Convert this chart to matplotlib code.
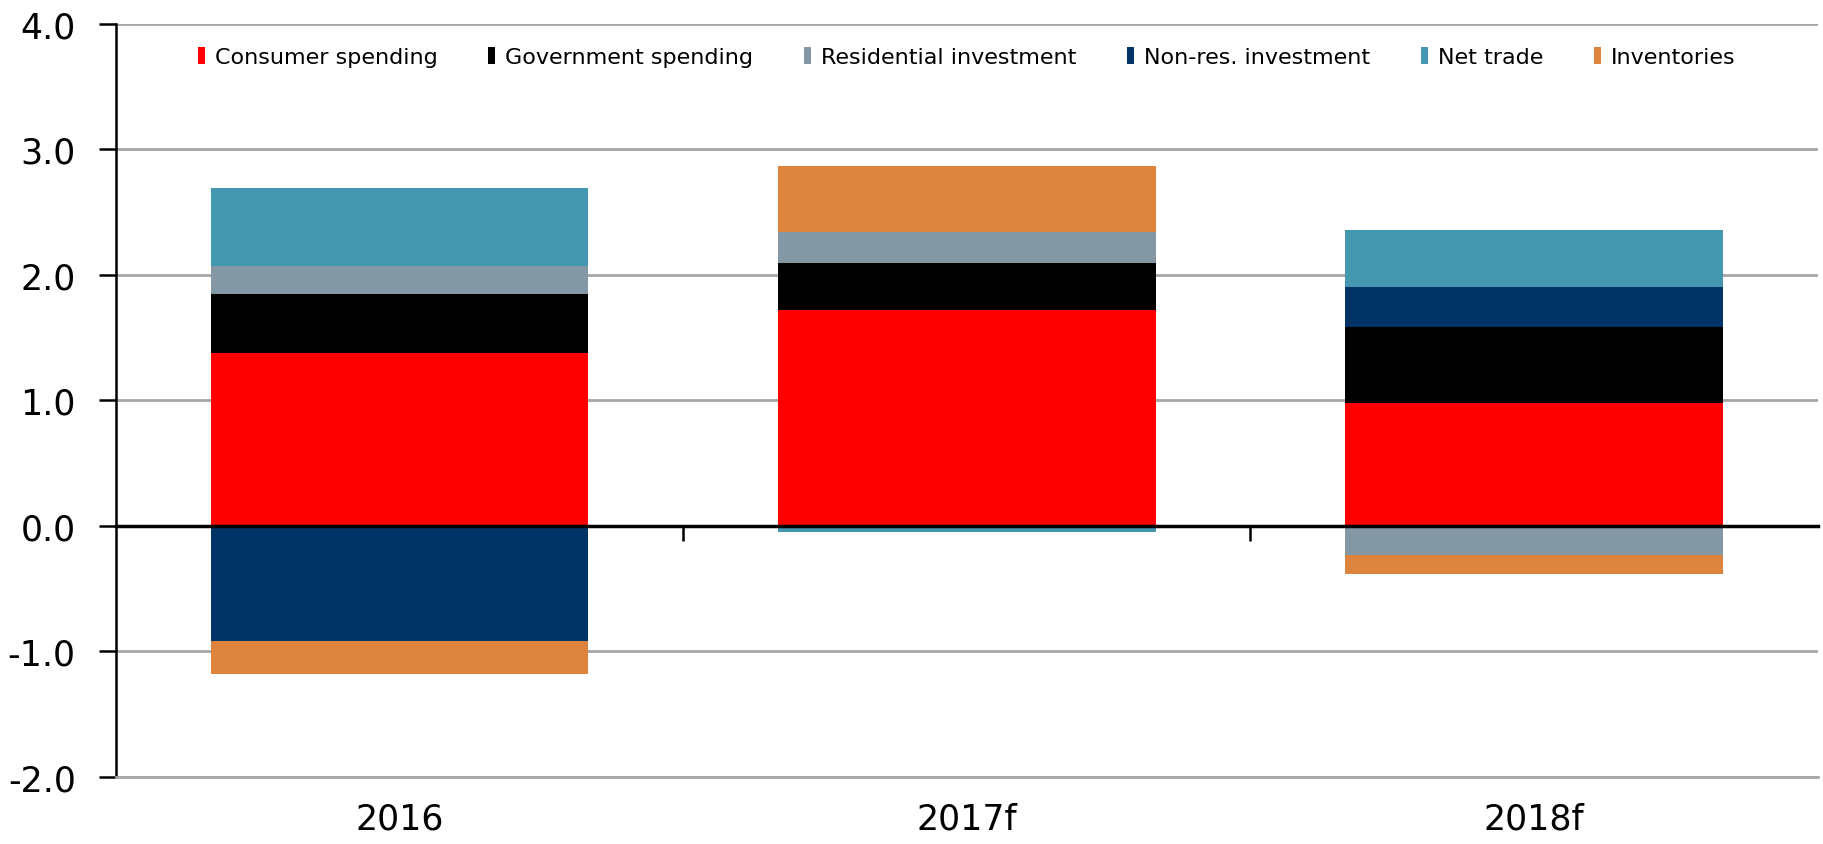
import numpy as np
import matplotlib.pyplot as plt

years = ['2016', '2017f', '2018f']
series = ['Consumer spending', 'Government spending', 'Residential investment',
          'Non-res. investment', 'Net trade', 'Inventories']
consumer = [1.38, 1.72, 0.98]
government = [0.465, 0.37, 0.60]
residential = [0.225, 0.25, -0.235]
nonres = [-0.92, 0.0, 0.32]
net_trade = [0.62, -0.048, 0.455]
inventories = [-0.26, 0.525, -0.15]
colors = ['#ff0000', '#000000', '#8497a4', '#003366', '#4398b0', '#dc843e']

values = [consumer, government, residential, nonres, net_trade, inventories]

fig = plt.figure(figsize=(18.23, 8.45), dpi=100)
ax = fig.add_axes([0.0636, 0.0793, 0.9334, 0.8917])

x = np.arange(len(years))
pos_bottom = np.zeros(len(years))
neg_bottom = np.zeros(len(years))
for name, vals, c in zip(series, values, colors):
    vals = np.array(vals)
    bottom = np.where(vals >= 0, pos_bottom, neg_bottom)
    ax.bar(x, vals, width=0.666, bottom=bottom, color=c, label=name, zorder=2)
    pos_bottom += np.where(vals >= 0, vals, 0)
    neg_bottom += np.where(vals < 0, vals, 0)

ax.set_xlim(-0.5, 2.5)
ax.set_ylim(-2, 4)
ax.set_yticks(np.arange(-2, 4.01, 1.0))
ax.set_yticklabels([f'{v:.1f}' for v in np.arange(-2, 4.01, 1.0)])
ax.yaxis.grid(True, color='#a6a6a6', linewidth=2, zorder=0)
ax.set_axisbelow(True)

ax.set_xticks(x)
ax.set_xticklabels(years)
ax.tick_params(axis='x', length=0, pad=18, labelsize=25)
ax.tick_params(axis='y', direction='out', length=12, width=1.8, pad=17, labelsize=25)

for s in ['top', 'right']:
    ax.spines[s].set_visible(False)
ax.spines['bottom'].set_color('#a6a6a6')
ax.spines['bottom'].set_linewidth(2)
ax.spines['left'].set_linewidth(1.8)

# zero line with category separators
zero = ax.secondary_xaxis(1 / 3)
zero.set_xticks([0.5, 1.5])
zero.set_xticklabels([])
zero.tick_params(direction='out', length=11, width=1.8)
zero.spines['bottom'].set_linewidth(2.5)
zero.set_zorder(5)

ax.legend(loc='upper center', ncol=6, frameon=False, fontsize=16,
          bbox_to_anchor=(0.5, 0.995), handlelength=0.3, handleheight=0.75,
          handletextpad=0.45, columnspacing=2.3)

plt.savefig('out.png')
